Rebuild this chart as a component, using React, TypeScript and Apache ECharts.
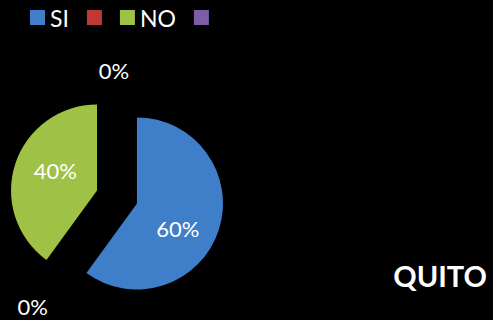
import React, { useEffect, useRef } from 'react';
import * as echarts from 'echarts';

const categories = ['SI', 'Serie 2', 'NO', 'Serie 4'];
const legendLabels = ['SI', '', 'NO', ''];
const values = [60, 0, 40, 0];
const sliceColors = ['#3F7EC8', '#BE3A37', '#9FC146', '#7B5EA7'];
const chartTitle = 'QUITO';

const FONT = 'Lato, "Open Sans", sans-serif';

export default function App() {
  const ref = useRef<HTMLDivElement>(null);
  useEffect(() => {
    const chart = echarts.init(ref.current!, null, { renderer: 'svg' });
    const insideIdx = [0, 2];
    const labelShift: Record<number, { dx: number; dy: number }> = {
      0: { dx: -3, dy: 11 },
      1: { dx: 0, dy: 0 },
      2: { dx: 2, dy: -6 },
      3: { dx: 2, dy: 0 },
    };
    const lineLen: Record<number, number> = { 1: 49, 3: 41 };
    chart.setOption({
      animation: false,
      backgroundColor: '#000000',
      title: {
        text: chartTitle,
        right: 6,
        top: 261,
        padding: 0,
        textStyle: { color: '#ffffff', fontSize: 29, fontWeight: 'bold', fontFamily: FONT },
      },
      legend: {
        left: 30,
        top: 6,
        padding: 0,
        itemWidth: 15,
        itemHeight: 15,
        itemGap: 18,
        icon: 'rect',
        selectedMode: false,
        data: categories,
        formatter: (name: string) => legendLabels[categories.indexOf(name)],
        textStyle: { color: '#ffffff', fontSize: 23, fontFamily: FONT },
      },
      series: [
        {
          type: 'pie',
          center: [117, 197],
          radius: 86,
          startAngle: 90,
          clockwise: true,
          selectedMode: 'multiple',
          selectedOffset: 21,
          avoidLabelOverlap: false,
          emphasis: { disabled: true },
          label: {
            color: '#ffffff',
            fontSize: 22,
            fontFamily: FONT,
            formatter: '{d}%',
          },
          labelLayout: (params: any) => {
            const s = labelShift[params.dataIndex];
            const o: any = { dx: s.dx, dy: s.dy };
            if (!insideIdx.includes(params.dataIndex)) o.align = 'center';
            return o;
          },
          data: categories.map((name, i) => {
            const inside = insideIdx.includes(i);
            return {
              name,
              value: values[i],
              selected: inside,
              itemStyle: { color: sliceColors[i] },
              label: { position: inside ? 'inside' : 'outside' },
              labelLine: inside
                ? { show: false }
                : { show: false, length: lineLen[i], length2: 0 },
            };
          }),
        },
      ],
    });
    return () => chart.dispose();
  }, []);
  return (
    <div
      ref={ref}
      style={{ position: 'fixed', left: 0, top: 0, width: 493, height: 320 }}
    />
  );
}
